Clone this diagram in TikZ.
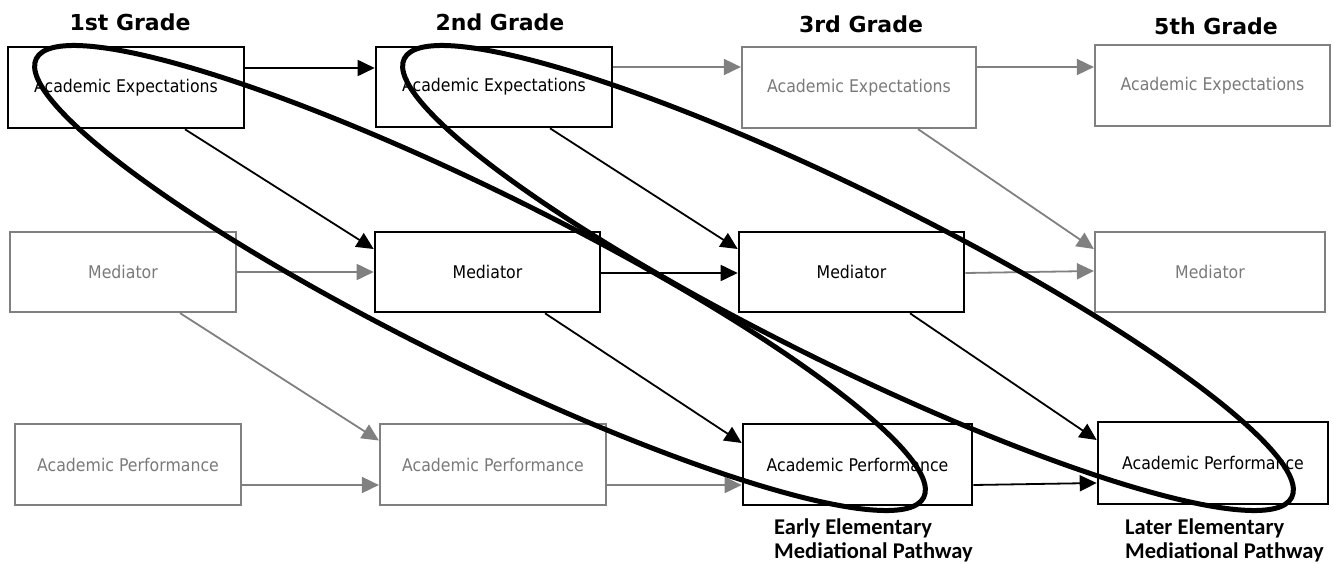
\documentclass[tikz,border=0pt]{standalone}
\usepackage{fontspec}
\setmainfont{DejaVu Sans}
\newfontfamily\boxfont[FakeStretch=0.9]{DejaVu Sans}
\newfontfamily\labfont{Carlito}
\usetikzlibrary{arrows.meta}
\definecolor{lg}{HTML}{808080}
\definecolor{lgt}{HTML}{7A7A7A}
\begin{document}
\begin{tikzpicture}[x=1pt,y=-1pt,
  box/.style={draw, fill=white, inner sep=0pt, font=\boxfont\fontsize{17.5}{20}\selectfont, align=center},
  on/.style={box, draw=black, line width=2.6pt, text=black},
  off/.style={box, draw=lg, line width=2.2pt, text=lgt},
  arr/.style={line width=1.8pt, -{Triangle[length=17pt,width=16pt]}},
  arron/.style={arr, draw=black},
  arroff/.style={arr, draw=lg},
  hdr/.style={font=\bfseries\fontsize{22}{26}\selectfont, inner sep=0pt},
  loopline/.style={line width=5pt, draw=black},
  lab/.style={font=\labfont\bfseries\fontsize{22.5}{24}\selectfont, align=left, inner sep=0pt, anchor=north west}
]
\useasboundingbox (0,0) rectangle (1334,563);
% headers
\node[hdr] (h1) at (130,22) {1st Grade};
\node[hdr] (h2) at (500,22) {2nd Grade};
\node[hdr] (h3) at (861,24) {3rd Grade};
\node[hdr] (h5) at (1216,26) {5th Grade};
% row 1
\node[on,  minimum width=236pt, minimum height=81pt] (A1) at (126,87.5) {Academic Expectations};
\node[on,  minimum width=236pt, minimum height=80pt] (A2) at (494,87) {Academic Expectations};
\node[off, minimum width=234pt, minimum height=81pt] (A3) at (859,87.5) {Academic Expectations};
\node[off, minimum width=235pt, minimum height=81pt] (A5) at (1212.5,85.5) {Academic Expectations};
% row 2
\node[off, minimum width=226pt, minimum height=80pt] (M1) at (123,272) {Mediator};
\node[on,  minimum width=225pt, minimum height=80pt] (M2) at (487.5,272) {Mediator};
\node[on,  minimum width=225pt, minimum height=80pt] (M3) at (851.5,272) {Mediator};
\node[off, minimum width=230pt, minimum height=80pt] (M5) at (1210,272) {Mediator};
% row 3
\node[off, minimum width=226pt, minimum height=81pt] (P1) at (128,464.5) {Academic Performance};
\node[off, minimum width=226pt, minimum height=81pt] (P2) at (493,464.5) {Academic Performance};
\node[on,  minimum width=229pt, minimum height=81pt] (P3) at (857.5,464.5) {Academic Performance};
\node[on,  minimum width=230pt, minimum height=82pt] (P5) at (1213,463) {Academic Performance};
% horizontal arrows
\draw[arron]  ([yshift=19.5pt]A1.east) -- ([yshift=19pt]A2.west);
\draw[arroff] ([yshift=20pt]A2.east) -- ([yshift=20.5pt]A3.west);
\draw[arroff] ([yshift=20.5pt]A3.east) -- ([yshift=18.5pt]A5.west);
\draw[arroff] (M1.east) -- (M2.west);
\draw[arron]  ([yshift=-1pt]M2.east) -- ([yshift=-1pt]M3.west);
\draw[arroff] ([yshift=-1pt]M3.east) -- ([yshift=1pt]M5.west);
\draw[arroff] ([yshift=-20.5pt]P1.east) -- ([yshift=-20.5pt]P2.west);
\draw[arroff] ([yshift=-20.5pt]P2.east) -- ([yshift=-20.5pt]P3.west);
\draw[arron]  ([yshift=-20.5pt]P3.east) -- ([yshift=-20pt]P5.west);
% diagonal arrows
\draw[arron]  ([xshift=59pt]A1.south) -- ([yshift=23pt]M2.west);
\draw[arron]  ([xshift=56pt]A2.south) -- ([yshift=23pt]M3.west);
\draw[arroff] ([xshift=59pt]A3.south) -- ([yshift=23pt]M5.west);
\draw[arroff] ([xshift=57pt]M1.south) -- ([yshift=24pt]P2.west);
\draw[arron]  ([xshift=57.5pt]M2.south) -- ([yshift=21.5pt]P3.west);
\draw[arron]  ([xshift=58.5pt]M3.south) -- ([yshift=23pt]P5.west);
% pathway labels
\node[lab] (L1) at (774,519) {Early Elementary\\Mediational Pathway};
\node[lab] (L2) at (1125,519) {Later Elementary\\Mediational Pathway};
% ellipses
\draw[loopline, rotate around={-26.3:(480,278)}] (480,278) ellipse [x radius=495pt, y radius=86pt];
\draw[loopline, rotate around={-26.3:(848,278)}] (848,278) ellipse [x radius=495pt, y radius=86pt];
\end{tikzpicture}
\end{document}
